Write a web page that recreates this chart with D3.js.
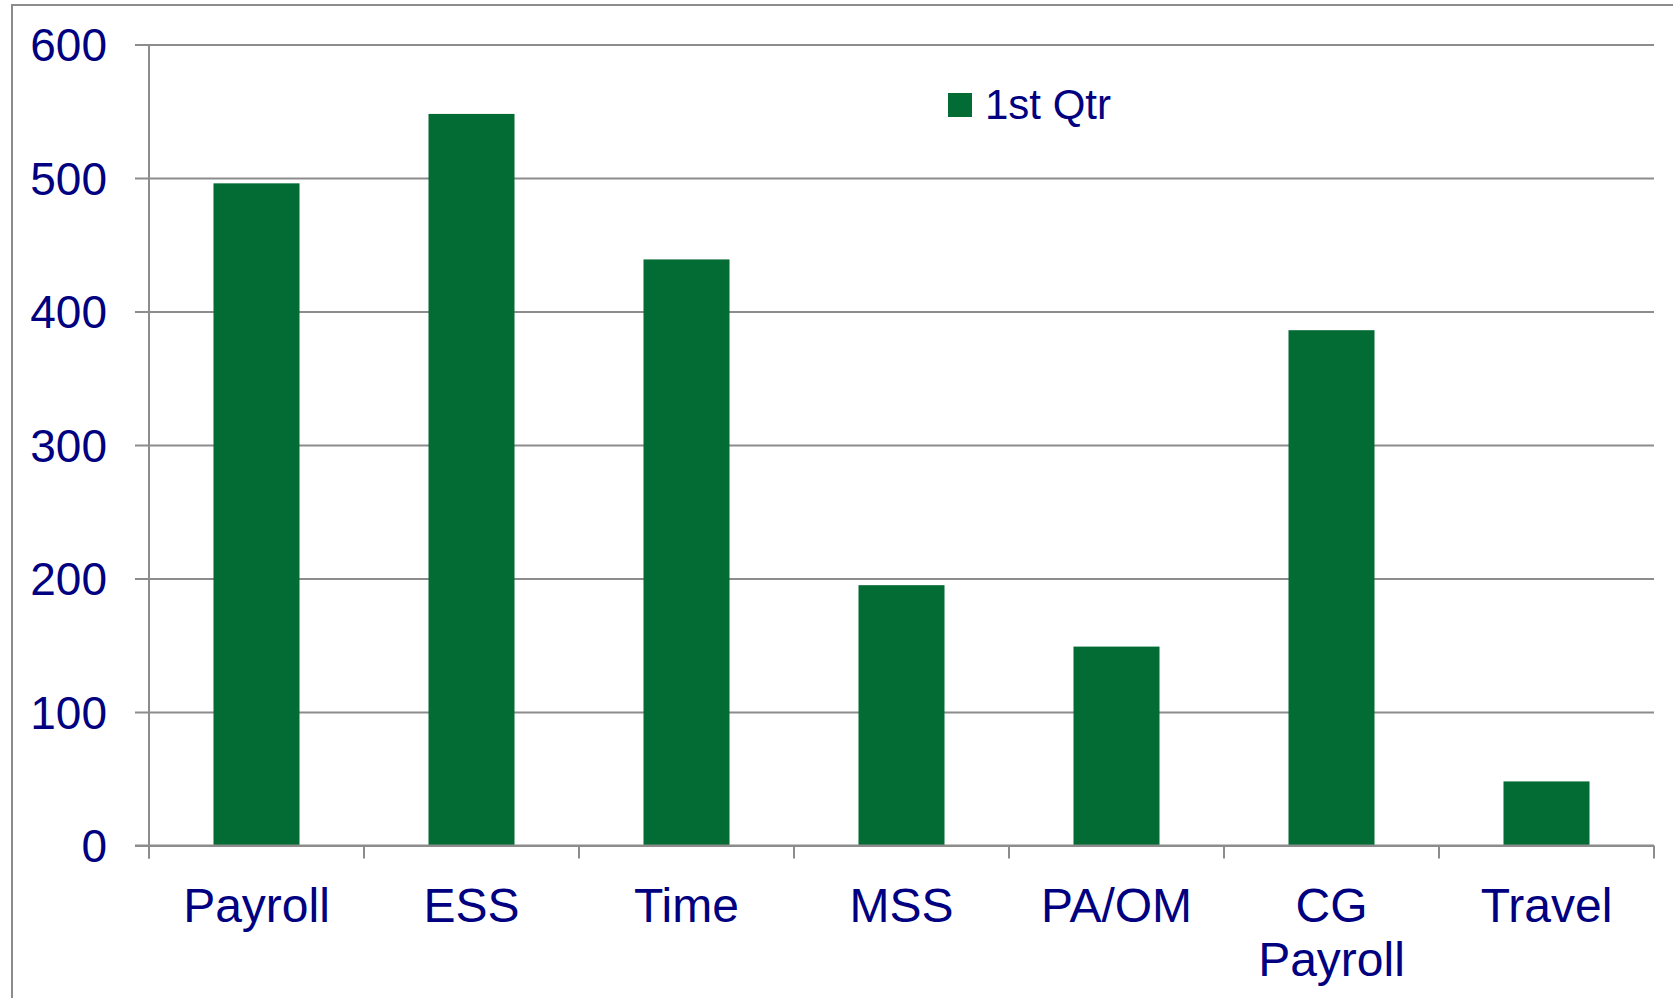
<!DOCTYPE html>
<html>
<head>
<meta charset="utf-8">
<script src="https://cdn.jsdelivr.net/npm/d3@7"></script>
<style>
  body { margin: 0; background: #fff; }
  text { font-family: "Liberation Sans", Arial, sans-serif; fill: #000080; }
</style>
</head>
<body>
<svg width="1673" height="998"></svg>
<script>
// data
var categories = [["Payroll"], ["ESS"], ["Time"], ["MSS"], ["PA/OM"], ["CG", "Payroll"], ["Travel"]];
var values = [496, 548, 439, 195, 149, 386, 48];
var yTicks = [0, 100, 200, 300, 400, 500, 600];
var seriesName = "1st Qtr";

var barColor = "#036b34",
  gridColor = "#8c8c8c";

var svg = d3.select("svg");

var plotLeft = 149, plotRight = 1654, plotTop = 44.5, plotBottom = 845.5;

var x = d3.scaleBand()
  .domain(d3.range(categories.length))
  .range([plotLeft, plotRight])
  .padding(0);

var y = d3.scaleLinear()
  .domain([0, 600])
  .range([plotBottom, plotTop]);

// outer frame
svg.append("path")
  .attr("d", "M12,998V5H1673")
  .attr("fill", "none")
  .attr("stroke", gridColor)
  .attr("stroke-width", 2);

// y axis with gridlines
var yAxis = svg.append("g")
  .attr("transform", "translate(" + plotLeft + ",0)")
  .call(d3.axisLeft(y).tickValues(yTicks).tickSize(-(plotRight - plotLeft)).tickSizeOuter(0));
yAxis.select(".domain").remove();
yAxis.selectAll(".tick line")
  .attr("x1", -14)
  .attr("stroke", gridColor)
  .attr("stroke-width", 2);
yAxis.selectAll(".tick text")
  .attr("x", -42)
  .style("font-size", "46px")
  .attr("fill", "#000080")
  .attr("dy", "0.35em");

// vertical axis line
svg.append("line")
  .attr("x1", plotLeft).attr("x2", plotLeft)
  .attr("y1", plotTop).attr("y2", plotBottom + 13)
  .attr("stroke", gridColor)
  .attr("stroke-width", 2);

// x ticks at category boundaries
svg.append("g")
  .selectAll("line")
  .data(d3.range(categories.length + 1))
  .enter().append("line")
  .attr("x1", function (d) { return plotLeft + d * x.step(); })
  .attr("x2", function (d) { return plotLeft + d * x.step(); })
  .attr("y1", plotBottom)
  .attr("y2", plotBottom + 13)
  .attr("stroke", gridColor)
  .attr("stroke-width", 2);

// bars
var barW = x.bandwidth() * 0.4;
svg.append("g")
  .selectAll("rect")
  .data(values)
  .enter().append("rect")
  .attr("x", function (d, i) { return x(i) + (x.bandwidth() - barW) / 2; })
  .attr("y", function (d) { return y(d); })
  .attr("width", barW)
  .attr("height", function (d) { return y(0) - y(d); })
  .attr("fill", barColor);

// baseline on top of bars
svg.append("line")
  .attr("x1", plotLeft - 14).attr("x2", plotRight)
  .attr("y1", plotBottom).attr("y2", plotBottom)
  .attr("stroke", gridColor)
  .attr("stroke-width", 2);

// category labels
var labels = svg.append("g")
  .selectAll("text")
  .data(categories)
  .enter().append("text")
  .attr("text-anchor", "middle")
  .style("font-size", "48px")
  .attr("transform", function (d, i) {
    return "translate(" + (x(i) + x.bandwidth() / 2) + ",922)";
  });
labels.selectAll("tspan")
  .data(function (d) { return d; })
  .enter().append("tspan")
  .attr("x", 0)
  .attr("dy", function (d, i) { return i === 0 ? 0 : 54; })
  .text(function (d) { return d; });

// legend
var legend = svg.append("g").attr("transform", "translate(948,93)");
legend.append("rect")
  .attr("width", 24).attr("height", 24)
  .attr("fill", barColor);
legend.append("text")
  .attr("x", 37).attr("y", 26)
  .style("font-size", "42px")
  .text(seriesName);
</script>
</body>
</html>
